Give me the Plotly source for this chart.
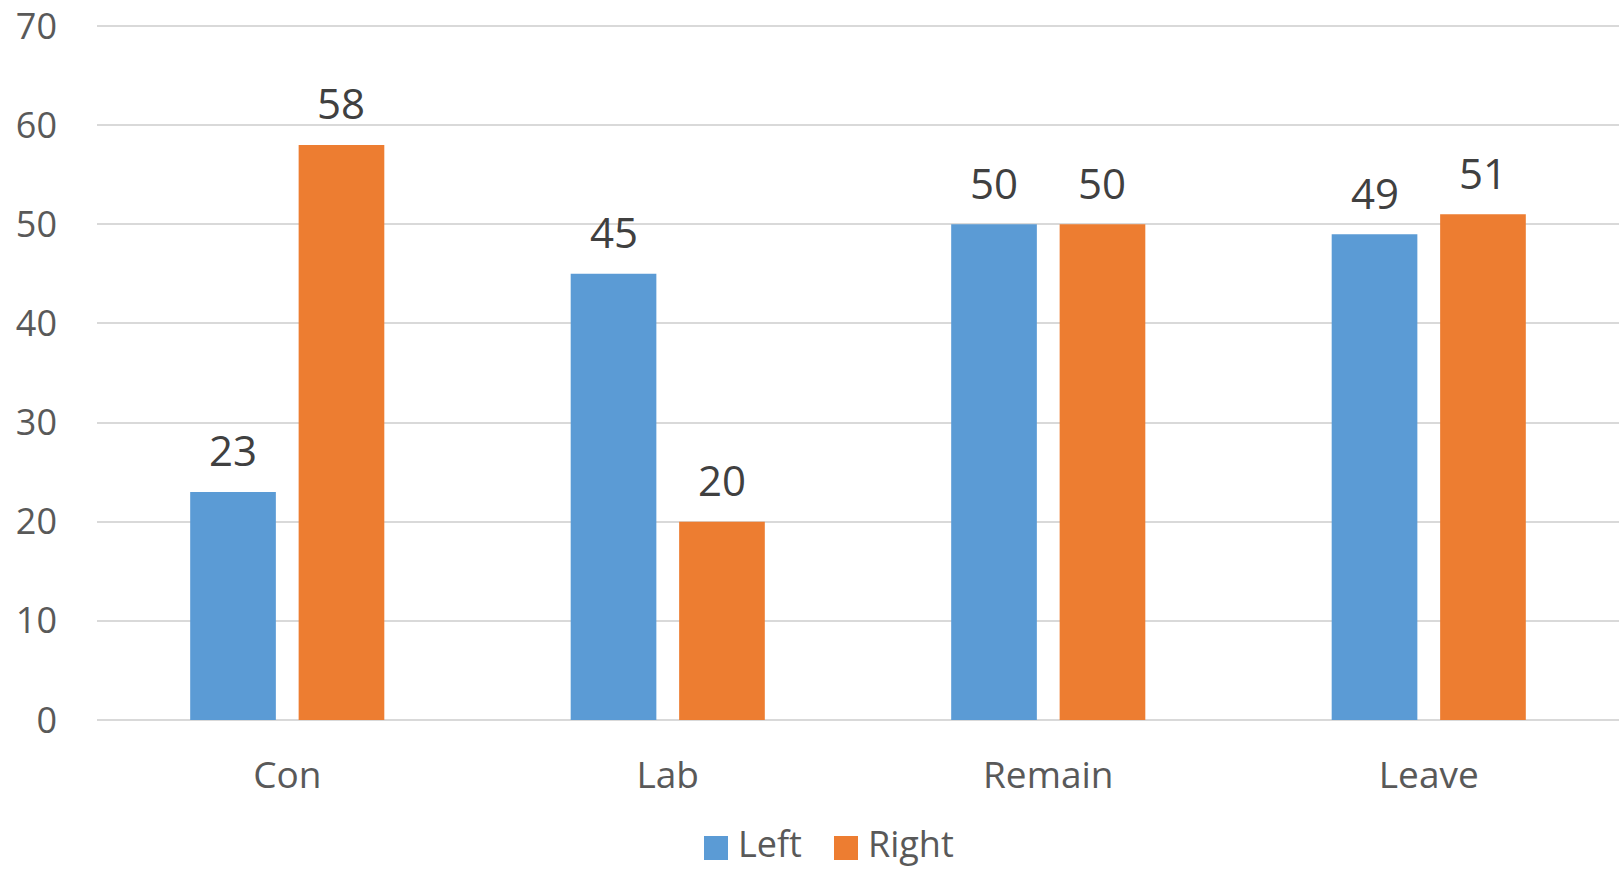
import plotly.graph_objects as go

categories = ["Con", "Lab", "Remain", "Leave"]
left_values = [23, 45, 50, 49]
right_values = [58, 20, 50, 51]
series_names = ["Left", "Right"]
y_ticks = [0, 10, 20, 30, 40, 50, 60, 70]

BLUE = "#5B9BD5"
ORANGE = "#ED7D31"
FONT = "Open Sans"

W, H = 1619, 869
ml, mr, mt, mb = 97, 0, 23, 149
plot_w = W - ml - mr
plot_h = H - mt - mb
BARGAP = 0.43

fig = go.Figure()
for name, vals, col in [(series_names[0], left_values, BLUE),
                        (series_names[1], right_values, ORANGE)]:
    fig.add_trace(go.Bar(
        x=categories, y=vals, name=name,
        marker=dict(color=col, line=dict(width=0)),
    ))

# Value labels above each bar
slot_px = plot_w / len(categories) * (1 - BARGAP) / 2
for k, vals in enumerate([left_values, right_values]):
    offset = (k - 0.5) * slot_px
    for cat, v in zip(categories, vals):
        fig.add_annotation(x=cat, y=v, xref="x", yref="y", text=str(v),
                           showarrow=False, xshift=offset, yshift=42,
                           xanchor="center", yanchor="middle",
                           font=dict(family=FONT, size=42, color="#404040"))

fig.update_layout(
    width=W, height=H,
    margin=dict(l=ml, r=mr, t=mt, b=mb),
    paper_bgcolor="white", plot_bgcolor="white",
    barmode="group", bargap=BARGAP, bargroupgap=0.21,
    showlegend=False,
    font=dict(family=FONT, color="#595959"),
    xaxis=dict(showgrid=False, showline=False, ticks="",
               tickfont=dict(size=37, color="#595959"), ticklabelstandoff=30),
    yaxis=dict(range=[0, 70.3], tickvals=y_ticks, showgrid=True,
               gridcolor="#D9D9D9", gridwidth=1.5, zeroline=True,
               zerolinecolor="#D9D9D9", zerolinewidth=1.5, showline=False,
               tickfont=dict(size=36, color="#595959"), ticklabelstandoff=39),
)

# Legend drawn as colored squares with labels below the plot
legend_items = [(series_names[0], BLUE, 704), (series_names[1], ORANGE, 834)]
for name, col, x0 in legend_items:
    fig.add_shape(type="rect", xref="paper", yref="paper",
                  x0=(x0 - ml) / plot_w, x1=(x0 + 24 - ml) / plot_w,
                  y0=(H - mb - 860) / plot_h, y1=(H - mb - 836) / plot_h,
                  fillcolor=col, line=dict(width=0))
    fig.add_annotation(xref="paper", yref="paper",
                       x=(x0 + 32 - ml) / plot_w, y=(H - mb - 843) / plot_h,
                       xanchor="left", yanchor="middle", text=name, showarrow=False,
                       font=dict(family=FONT, size=36, color="#595959"))

fig.write_html("out.html")
